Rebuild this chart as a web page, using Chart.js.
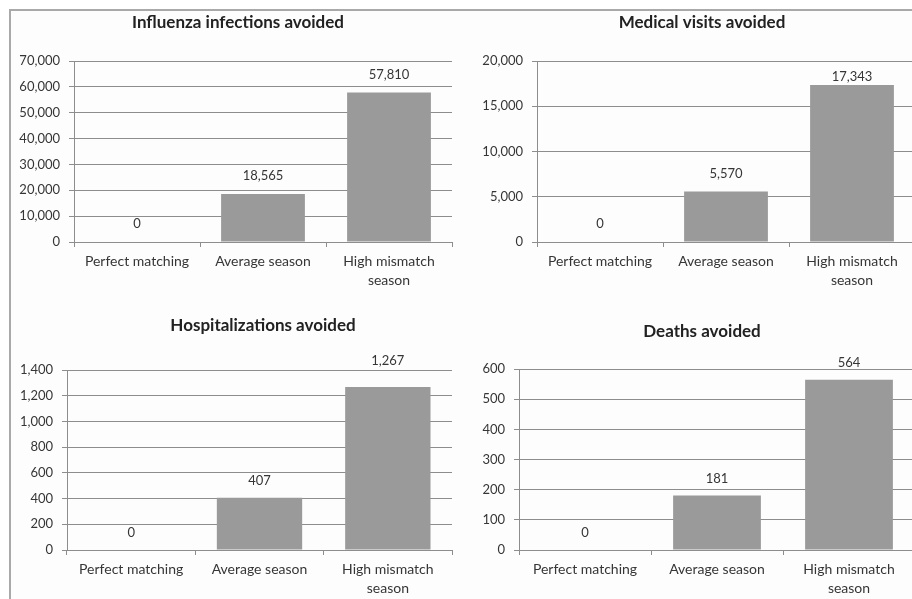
<!DOCTYPE html>
<html>
<head>
<meta charset="utf-8">
<script src="https://cdn.jsdelivr.net/npm/chart.js@4/dist/chart.umd.min.js"></script>
<style>
  html, body { margin: 0; padding: 0; background: #ffffff; width: 912px; height: 599px; overflow: hidden; }
  #frame { position: absolute; left: 9px; top: 9px; width: 940px; height: 620px;
           border-top: 2px solid #a9a9a9; border-left: 2px solid #a9a9a9; background: #fdfdfd; }
  canvas { position: absolute; }
</style>
</head>
<body>
<div id="frame"></div>
<canvas id="infections" width="446" height="288" style="left:14px;top:12px"></canvas>
<canvas id="visits" width="460" height="288" style="left:462px;top:12px"></canvas>
<canvas id="hospital" width="446" height="299" style="left:14px;top:300px"></canvas>
<canvas id="deaths" width="460" height="299" style="left:462px;top:300px"></canvas>
<script>
// Scenarios compared in every panel
const categories = ["Perfect matching", "Average season", ["High mismatch", "season"]];

// Outcomes avoided per scenario
const infectionsAvoided = [0, 18565, 57810];
const visitsAvoided = [0, 5570, 17343];
const hospitalizationsAvoided = [0, 407, 1267];
const deathsAvoided = [0, 181, 564];

// Value-axis ranges
const infectionsAxis = { max: 70000, step: 10000 };
const visitsAxis = { max: 20000, step: 5000 };
const hospitalAxis = { max: 1400, step: 200 };
const deathsAxis = { max: 600, step: 100 };

const FONT = "Lato, 'Open Sans', sans-serif";
const TEXT = '#363636';
const GRID = '#8d8d8d';
const BAR = '#9a9a9a';

const fmt = v => Number(v).toLocaleString('en-US');

// Writes each bar's value just above it
const valueLabels = {
  id: 'valueLabels',
  afterDatasetsDraw(chart, args, opts) {
    const { ctx, chartArea } = chart;
    const meta = chart.getDatasetMeta(0);
    const values = chart.data.datasets[0].data;
    ctx.save();
    ctx.font = '13px ' + FONT;
    ctx.fillStyle = TEXT;
    ctx.textAlign = 'center';
    ctx.textBaseline = 'middle';
    meta.data.forEach((bar, i) => {
      let y = bar.y - opts.gap;
      if (opts.topLimit != null) y = Math.max(y, chartArea.top + opts.topLimit);
      if (opts.clearTop && y + 8 > chartArea.top && y - 8 < chartArea.top) y = chartArea.top - 9;
      ctx.fillText(fmt(values[i]), bar.x, y);
    });
    ctx.restore();
  }
};

// Panel heading, centred at a fixed point of its canvas
const panelTitle = {
  id: 'panelTitle',
  afterDraw(chart, args, opts) {
    const ctx = chart.ctx;
    ctx.save();
    ctx.font = 'bold 17px ' + FONT;
    ctx.fillStyle = '#222222';
    ctx.textAlign = 'center';
    ctx.textBaseline = 'middle';
    ctx.fillText(opts.text, opts.x, opts.y);
    ctx.restore();
  }
};

function panel(id, title, values, axis, box) {
  new Chart(document.getElementById(id), {
    type: 'bar',
    data: {
      labels: categories,
      datasets: [{
        data: values,
        backgroundColor: BAR,
        borderWidth: 0,
        categoryPercentage: 1.0,
        barPercentage: 0.665
      }]
    },
    options: {
      responsive: false,
      animation: false,
      events: [],
      layout: { padding: { left: 0, right: box.right, top: box.top, bottom: 0 } },
      plugins: {
        legend: { display: false },
        tooltip: { enabled: false },
        title: { display: false },
        panelTitle: { text: title, x: box.titleX, y: box.titleY },
        valueLabels: { gap: box.gap, topLimit: box.topLimit, clearTop: box.clearTop }
      },
      scales: {
        x: {
          grid: { display: true, drawOnChartArea: false, drawTicks: true, tickLength: 5, color: GRID, offset: true },
          border: { display: true, color: GRID, width: 1 },
          ticks: { color: TEXT, padding: 5, maxRotation: 0, autoSkip: false,
                   font: { family: FONT, size: 14, lineHeight: '19px' } },
          afterFit: s => { s.height = box.xHeight; }
        },
        y: {
          min: 0,
          max: axis.max,
          grid: { color: GRID, lineWidth: 1, tickLength: 5 },
          border: { display: true, color: GRID, width: 1 },
          ticks: { stepSize: axis.step, color: TEXT, padding: 9,
                   font: { family: FONT, size: 13 },
                   callback: v => fmt(v) },
          afterFit: s => { s.width = box.yWidth; }
        }
      }
    },
    plugins: [valueLabels, panelTitle]
  });
}

panel('infections', 'Influenza infections avoided', infectionsAvoided, infectionsAxis,
      { yWidth: 60, right: 8, top: 49, xHeight: 58, titleX: 224, titleY: 11, gap: 18 });
panel('visits', 'Medical visits avoided', visitsAvoided, visitsAxis,
      { yWidth: 75, right: 7, top: 49, xHeight: 58, titleX: 240, titleY: 11, gap: 18, topLimit: 16 });
panel('hospital', 'Hospitalizations avoided', hospitalizationsAvoided, hospitalAxis,
      { yWidth: 53, right: 8, top: 70, xHeight: 49, titleX: 249, titleY: 26, gap: 17, clearTop: true });
panel('deaths', 'Deaths avoided', deathsAvoided, deathsAxis,
      { yWidth: 57, right: 7, top: 69, xHeight: 49, titleX: 240, titleY: 32, gap: 17 });
</script>
</body>
</html>
